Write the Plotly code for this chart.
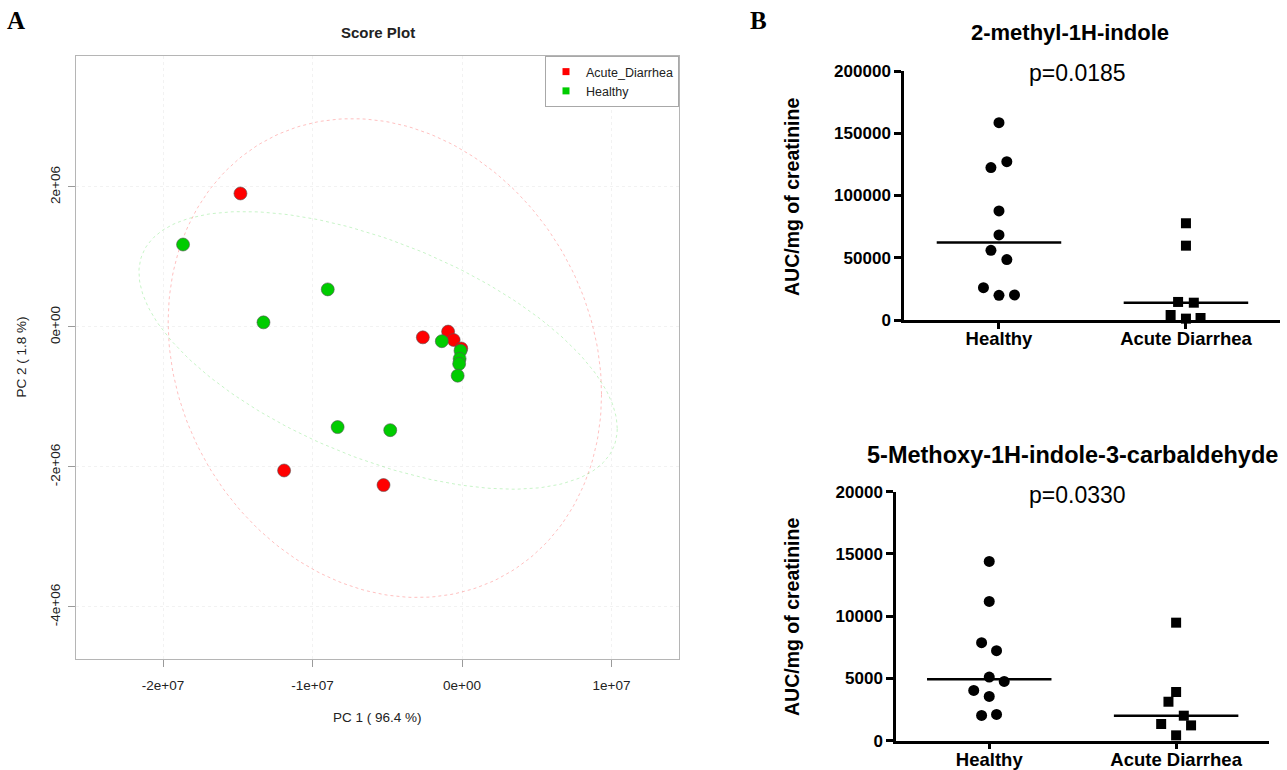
import numpy as np
import plotly.graph_objects as go

# ---------------- Panel A: PCA score plot data ----------------
groups = ["Acute_Diarrhea", "Healthy"]
acute_pc1 = [-1.482e7, -1.190e7, -0.525e7, -0.262e7, -0.093e7, -0.056e7, -0.005e7]
acute_pc2 = [1.907e6, -2.050e6, -2.258e6, -0.148e6, -0.066e6, -0.186e6, -0.307e6]
healthy_pc1 = [-1.866e7, -1.328e7, -0.898e7, -0.832e7, -0.480e7, -0.135e7,
               -0.010e7, -0.016e7, -0.019e7, -0.029e7]
healthy_pc2 = [1.178e6, 0.066e6, 0.537e6, -1.430e6, -1.474e6, -0.203e6,
               -0.340e6, -0.455e6, -0.526e6, -0.696e6]
pc1_ticks = [-2e7, -1e7, 0, 1e7]
pc1_ticktext = ["-2e+07", "-1e+07", "0e+00", "1e+07"]
pc2_ticks = [-4e6, -2e6, 0, 2e6]
pc2_ticktext = ["-4e+06", "-2e+06", "0e+00", "2e+06"]

# ---------------- Panel B: metabolite data ----------------
categories = ["Healthy", "Acute Diarrhea"]
indole_healthy = [158500, 127200, 122400, 87600, 68300, 56000, 48500, 26000, 19800, 20100]
indole_acute = [77700, 59700, 14500, 13900, 4000, 1100, 1600]
indole_ticks = [0, 50000, 100000, 150000, 200000]
methoxy_healthy = [14400, 11190, 7870, 7230, 5110, 4760, 4040, 3560, 2030, 2110]
methoxy_acute = [9480, 3910, 3130, 2010, 1340, 1230, 430]
methoxy_ticks = [0, 5000, 10000, 15000, 20000]

# horizontal scatter offsets (style only, category units)
jit_indole_h = [0, 0.042, -0.043, 0, 0, -0.043, 0.042, -0.083, 0, 0.083]
jit_indole_a = [0, 0, -0.042, 0.042, -0.082, 0, 0.078]
jit_methoxy_h = [0, 0, -0.041, 0.039, 0, 0.08, -0.083, 0, -0.041, 0.039]
jit_methoxy_a = [0, 0, -0.041, 0.041, -0.08, 0.08, 0]

RED = "#FF0000"
GREEN = "#00CC00"
FONT = "Liberation Sans"
W, H = 1287, 770


def conf_ellipse(x, y, level=0.95, n=240):
    xy = np.vstack([x, y])
    c = np.cov(xy)
    m = xy.mean(axis=1)
    t = np.sqrt(-2 * np.log(1 - level))
    L = np.linalg.cholesky(c)
    th = np.linspace(0, 2 * np.pi, n)
    pts = m[:, None] + t * (L @ np.vstack([np.cos(th), np.sin(th)]))
    return pts[0], pts[1]


def px_x(p):
    return p / W


def px_y(p):
    return 1 - p / H


fig = go.Figure()

# ellipses
for xs, ys, col in [(acute_pc1, acute_pc2, "rgba(255,0,0,0.25)"),
                    (healthy_pc1, healthy_pc2, "rgba(0,205,0,0.22)")]:
    ex, ey = conf_ellipse(xs, ys)
    fig.add_trace(go.Scatter(x=ex, y=ey, mode="lines", showlegend=False,
                             line=dict(color=col, width=1, dash="dot"),
                             hoverinfo="skip", xaxis="x", yaxis="y"))

# score points
for xs, ys, col in [(acute_pc1, acute_pc2, RED), (healthy_pc1, healthy_pc2, GREEN)]:
    fig.add_trace(go.Scatter(x=xs, y=ys, mode="markers", showlegend=False,
                             marker=dict(size=13, color=col, line=dict(color="#555555", width=0.6)),
                             xaxis="x", yaxis="y"))

# legend entries
for name, col in zip(groups, [RED, GREEN]):
    fig.add_trace(go.Scatter(x=[None], y=[None], mode="markers", name=name,
                             marker=dict(size=7, color=col, symbol="square"),
                             xaxis="x", yaxis="y"))


# Panel B traces
def add_group(values, jit, center, symbol, size, xa, ya):
    xs = [center + j for j in jit]
    fig.add_trace(go.Scatter(x=xs, y=values, mode="markers", showlegend=False,
                             cliponaxis=False,
                             marker=dict(size=size, color="black", symbol=symbol),
                             xaxis=xa, yaxis=ya))
    med = float(np.median(values))
    fig.add_trace(go.Scatter(x=[center - 0.333, center + 0.333], y=[med, med],
                             mode="lines", showlegend=False, cliponaxis=False,
                             line=dict(color="black", width=2.5),
                             xaxis=xa, yaxis=ya))


add_group(indole_healthy, jit_indole_h, 0, "circle", 11, "x2", "y2")
add_group(indole_acute, jit_indole_a, 1, "square", 10, "x2", "y2")
add_group(methoxy_healthy, jit_methoxy_h, 0, "circle", 11, "x3", "y3")
add_group(methoxy_acute, jit_methoxy_a, 1, "square", 10, "x3", "y3")

# ---------------- layout ----------------
A_L, A_R, A_T, A_B = 76, 679, 56, 659
B1_L, B1_R, B1_T, B1_B = 904, 1280, 71, 320
B2_L, B2_R, B2_T, B2_B = 896, 1269, 491.7, 740.7

grid_ax = dict(showgrid=True, gridcolor="#F2F2F2", griddash="dot", gridwidth=1,
               zeroline=False, showline=True, linecolor="#B5B5B5", linewidth=1,
               mirror=True, ticks="outside", ticklen=7, tickcolor="#9A9A9A",
               automargin=False,
               tickfont=dict(family=FONT, size=13.5, color="#222222"))

gp_y = dict(showgrid=False, zeroline=False, showline=True, linecolor="black",
            linewidth=2.5, ticks="outside", ticklen=7, tickwidth=2.5, tickcolor="black",
            tickformat="d", automargin=False,
            tickfont=dict(family=FONT, size=17, color="black", weight="bold"))
gp_x = dict(showgrid=False, zeroline=False, showline=True, linecolor="black",
            linewidth=2.5, ticks="outside", ticklen=6, tickwidth=2.5, tickcolor="black",
            tickvals=[0, 1], ticktext=categories, automargin=False,
            ticklabelstandoff=-6,
            tickfont=dict(family=FONT, size=18.5, color="black", weight="bold"))

fig.update_layout(
    width=W, height=H, margin=dict(l=0, r=0, t=0, b=0, autoexpand=False),
    paper_bgcolor="white", plot_bgcolor="white",
    showlegend=True,
    legend=dict(x=px_x(A_R), y=px_y(A_T), xanchor="right", yanchor="top",
                bordercolor="#A8A8A8", borderwidth=1, bgcolor="white",
                font=dict(family=FONT, size=12.5, color="#222222"),
                itemwidth=30, tracegroupgap=0),
    xaxis=dict(domain=[px_x(A_L), px_x(A_R)], range=[-2.582e7, 1.4515e7],
               tickvals=pc1_ticks, ticktext=pc1_ticktext, ticklabelstandoff=7,
               anchor="y", **grid_ax),
    yaxis=dict(domain=[px_y(A_B), px_y(A_T)], range=[-4.743e6, 3.871e6],
               tickvals=pc2_ticks, ticktext=pc2_ticktext, tickangle=-90,
               ticklabelstandoff=3, anchor="x", **grid_ax),
    xaxis2=dict(domain=[px_x(B1_L), px_x(B1_R)], range=[-0.508, 1.503],
                anchor="y2", **gp_x),
    yaxis2=dict(domain=[px_y(B1_B), px_y(B1_T)], range=[0, 200000],
                tickvals=indole_ticks, anchor="x2", **gp_y),
    xaxis3=dict(domain=[px_x(B2_L), px_x(B2_R)], range=[-0.499, 1.497],
                anchor="y3", **gp_x),
    yaxis3=dict(domain=[px_y(B2_B), px_y(B2_T)], range=[0, 20000],
                tickvals=methoxy_ticks, anchor="x3", **gp_y),
)


def ann(text, x, y, size, bold=False, family=FONT, color="black", angle=0):
    fig.add_annotation(text=text, x=px_x(x), y=px_y(y), xref="paper", yref="paper",
                       xanchor="center", yanchor="middle", showarrow=False,
                       textangle=angle,
                       font=dict(family=family, size=size, color=color,
                                 weight="bold" if bold else "normal"))


ann("A", 16, 20, 25, bold=True, family="Liberation Serif")
ann("B", 758, 20, 25, bold=True, family="Liberation Serif")
ann("Score Plot", (A_L + A_R) / 2, 32, 15, bold=True, color="#222222")
ann("PC 1 ( 96.4 %)", (A_L + A_R) / 2, 717, 13.5, color="#222222")
ann("PC 2 ( 1.8 %)", 21, (A_T + A_B) / 2, 13.5, color="#222222", angle=-90)

ann("2-methyl-1H-indole", 1070, 33, 22, bold=True)
ann("p=0.0185", 1077, 73, 23)
ann("AUC/mg of creatinine", 792, 197, 19.5, bold=True, angle=-90)

ann("5-Methoxy-1H-indole-3-carbaldehyde", 1072, 455, 23.5, bold=True)
ann("p=0.0330", 1077, 495, 23)
ann("AUC/mg of creatinine", 792, 617, 19.5, bold=True, angle=-90)

fig.write_html("out.html")
